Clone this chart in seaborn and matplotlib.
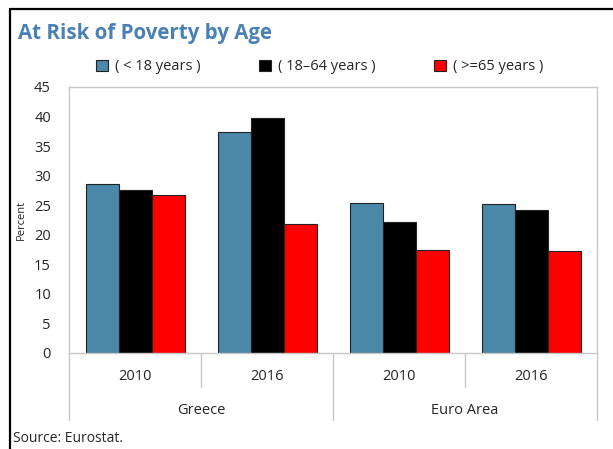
import pandas as pd
import numpy as np
import matplotlib.pyplot as plt
import seaborn as sns
from matplotlib.patches import Patch
from matplotlib.lines import Line2D
import matplotlib.transforms as mtransforms

# data
regions = ['Greece', 'Greece', 'Euro Area', 'Euro Area']
years = ['2010', '2016', '2010', '2016']
ages = ['( < 18 years )', '( 18\u201364 years )', '( >=65 years )']
under18 = [28.6, 37.4, 25.3, 25.2]
age18_64 = [27.6, 39.7, 22.2, 24.2]
over65 = [26.7, 21.9, 17.5, 17.2]
colors = ['#4a87a9', '#000000', '#ff0000']

sns.set_style('white')
plt.rcParams['font.family'] = ['Open Sans', 'DejaVu Sans']

groups = [r + ' ' + y for r, y in zip(regions, years)]
df = pd.DataFrame({'group': groups * 3,
                   'age': np.repeat(ages, 4),
                   'value': under18 + age18_64 + over65})

fig = plt.figure(figsize=(6.13, 4.49), dpi=100)
ax = fig.add_axes([69/613, 1-353/449, (597-69)/613, (353-87)/449])

sns.barplot(data=df, x='group', y='value', hue='age', palette=colors,
            width=0.75, saturation=1, edgecolor='#222222', linewidth=0.8,
            ax=ax, legend=False)

ax.set_ylim(0, 45)
ax.set_xlim(-0.5, 3.5)
ax.set_yticks(range(0, 50, 5))
ax.tick_params(axis='y', labelsize=10.5, length=3, color='#bfbfbf', pad=10)
ax.tick_params(axis='x', length=0, labelbottom=False)
for s in ax.spines.values():
    s.set_color('#c8c8c8')
    s.set_linewidth(1)
ax.set_xlabel('')
ax.set_ylabel('Percent', fontsize=8, labelpad=5)

# two level category axis
trans = mtransforms.blended_transform_factory(ax.transData, ax.transAxes)
for i, y in enumerate(years):
    ax.text(i, -0.09, y, transform=trans, ha='center', va='center', fontsize=10.5)
for x in [0.5, 2.5]:
    ax.plot([x, x], [0, -0.128], transform=trans, color='#c8c8c8', lw=1, clip_on=False)
for x in [-0.5, 1.5, 3.5]:
    ax.plot([x, x], [0, -0.252], transform=trans, color='#c8c8c8', lw=1, clip_on=False)
ax.text(0.5, -0.218, 'Greece', transform=trans, ha='center', va='center', fontsize=10.5)
ax.text(2.5, -0.218, 'Euro Area', transform=trans, ha='center', va='center', fontsize=10.5)

handles = [Patch(facecolor=c, edgecolor='#222222', linewidth=0.8) for c in colors]
fig.legend(handles, ages, loc='center', bbox_to_anchor=(0.522, 1-67/449), ncol=3,
           frameon=False, fontsize=10.5, handlelength=0.8, handleheight=0.8,
           handletextpad=0.5, columnspacing=4.0)

fig.text(18/613, 1-33/449, 'At Risk of Poverty by Age', fontsize=14.8, fontweight='bold',
         color='#4a80b4', va='center', ha='left')
fig.text(13/613, 1-438/449, 'Source: Eurostat.', fontsize=10, va='center', ha='left')

# border lines top and left
fig.add_artist(Line2D([9.5/613, 9.5/613], [0, 1-9/449], color='black', lw=1.6, transform=fig.transFigure))
fig.add_artist(Line2D([9.5/613, 1], [1-9/449, 1-9/449], color='black', lw=1.6, transform=fig.transFigure))

plt.savefig('out.png', dpi=100)
